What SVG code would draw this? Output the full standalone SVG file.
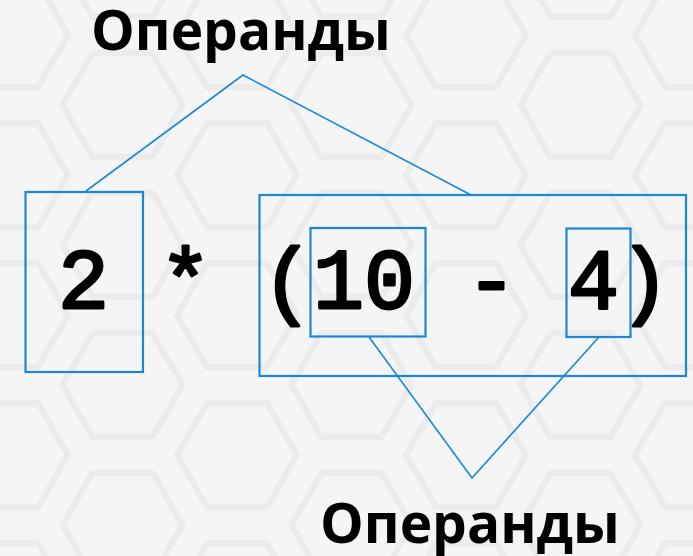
<svg xmlns="http://www.w3.org/2000/svg" width="693" height="556" viewBox="0 0 693 556">
<style>
.lbl{font-family:"Open Sans","Noto Sans",sans-serif;font-weight:bold;font-size:55px;fill:#000}
.code{font-family:"Liberation Mono","Courier New",monospace;font-weight:normal;font-size:85px;fill:#000;stroke:#000;stroke-width:2.8;stroke-linejoin:round}
.box{fill:none;stroke:#1a88d9;stroke-width:2.2}
.con{fill:none;stroke:#1a88d9;stroke-width:1.6}
.hex{fill:none;stroke:#ececec;stroke-width:6.5;stroke-linejoin:round}
</style>
<defs>
<polygon id="hx" points="-60,0 -30,-52 30,-52 60,0 30,52 -30,52"/>
<pattern id="bg" patternUnits="userSpaceOnUse" x="8" y="35" width="229" height="140">
<rect width="229" height="140" fill="#f5f5f5"/>
<use href="#hx" class="hex" x="0" y="0"/>
<use href="#hx" class="hex" x="229" y="0"/>
<use href="#hx" class="hex" x="0" y="140"/>
<use href="#hx" class="hex" x="229" y="140"/>
<use href="#hx" class="hex" x="114.5" y="70"/>
</pattern>
</defs>
<rect width="693" height="556" fill="url(#bg)"/>
<g id="connectors">
<polyline class="con" points="86,191 243,75 471,195"/>
<polyline class="con" points="369,337 472,478 599,337"/>
</g>
<g id="label-top"><text class="lbl" x="91" y="50">Операнды</text></g>
<g id="label-bottom"><text class="lbl" x="320" y="543">Операнды</text></g>
<g id="expression"><text class="code" x="58" y="308" xml:space="preserve">2 * (10 - 4)</text></g>
<g id="box-2"><rect class="box" x="25.5" y="192" width="117.5" height="180"/></g>
<g id="box-paren"><rect class="box" x="259.5" y="195" width="426.5" height="181"/></g>
<g id="box-10"><rect class="box" x="310.5" y="228" width="115" height="108.5"/></g>
<g id="box-4"><rect class="box" x="566.5" y="228.5" width="64" height="108.5"/></g>
</svg>
